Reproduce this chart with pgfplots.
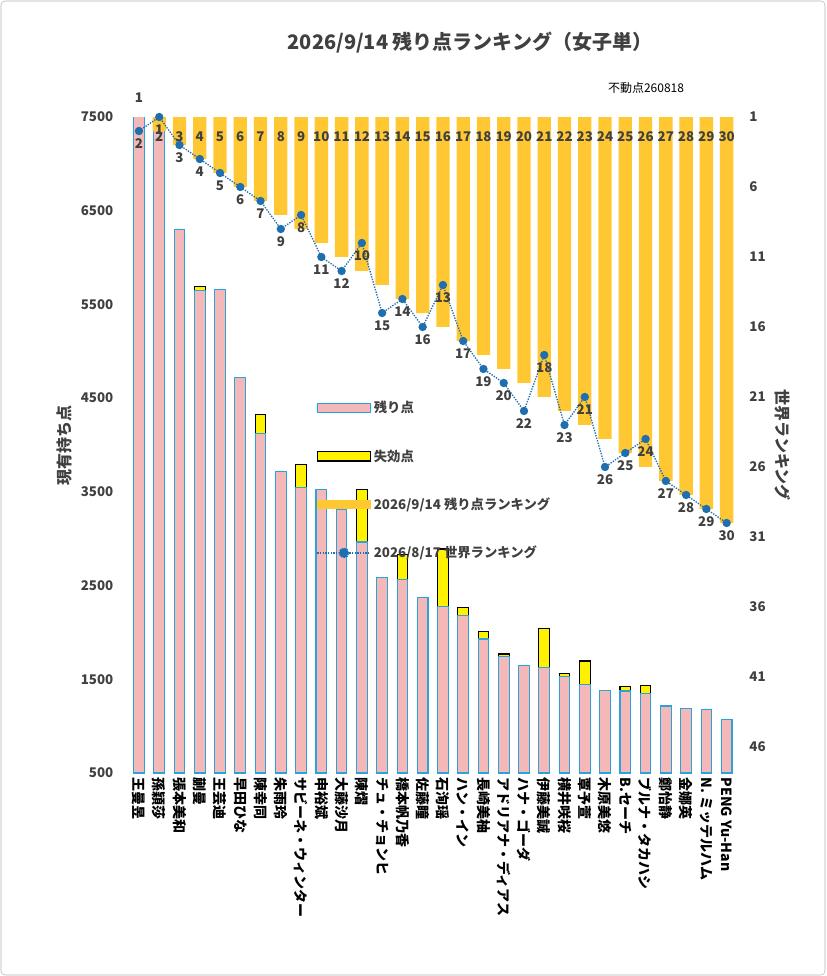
\documentclass[border=0pt]{standalone}
\usepackage{pgfplots}
\pgfplotsset{compat=1.18}
\usepackage{fontspec}
\setmainfont{Noto Sans CJK JP}
\definecolor{pinkb}{HTML}{F4B8B8}
\definecolor{blueb}{HTML}{2AA3D8}
\definecolor{goldb}{HTML}{FFC732}
\definecolor{lineb}{HTML}{1F6FB0}
\definecolor{txt}{HTML}{404040}
\begin{document}
\begin{tikzpicture}[x=0.75pt,y=0.75pt]
\path[use as bounding box] (-88.5pt,-152.25pt) rectangle (531pt,579.75pt);
\draw[gray!60,rounded corners=3pt] (-87.75pt,-151.5pt) rectangle (530.25pt,579pt);
\node[font=\bfseries\fontsize{15}{18}\selectfont,text=txt] at (264pt,547.5pt) {2026/9/14 残り点ランキング（女子単）};
\node[font=\fontsize{9}{11}\selectfont,anchor=west] at (364pt,514pt) {不動点260818};
\begin{axis}[at={(0pt,0pt)},anchor=south west,scale only axis,width=470pt,height=492pt,
 xmin=-0.035,xmax=30.89,ymin=500,ymax=7500,
 axis line style={draw=none},major tick length=0pt,
 ytick={500,1500,...,7500},
 yticklabel style={font=\bfseries\fontsize{10}{12}\selectfont,text=txt},
 /pgf/number format/assume math mode=true,/pgf/number format/set thousands separator={},
 ylabel={現有持ち点},ylabel style={font=\bfseries\fontsize{12}{14}\selectfont,text=txt},
 xtick={1,...,30},
 xticklabels={王曼昱,孫穎莎,張本美和,蒯曼,王芸迪,早田ひな,陳幸同,朱雨玲,サビーネ・ウィンター,申裕斌,大藤沙月,陳熠,チュ・チョンヒ,橋本帆乃香,佐藤瞳,石洵瑶,ハン・イン,長崎美柚,アドリアナ・ディアス,ハナ・ゴーダ,伊藤美誠,横井咲桜,覃予萱,木原美悠,B.セーチ,ブルナ・タカハシ,鄭怡静,金娜英,N. ミッテルハム,PENG Yu-Han},
 xticklabel style={rotate=-90,anchor=west,font=\bfseries\fontsize{10.5}{12}\selectfont,text=black},
 ybar,bar width=8pt]
\addplot[bar shift=0pt,fill=yellow,draw=black,line width=0.8pt] coordinates {(4,5690)(7,4330)(9,3790)(11,3360)(12,3530)(14,2830)(16,2890)(17,2270)(18,2005)(19,1770)(21,2040)(22,1560)(23,1695)(25,1420)(26,1430)};
\addplot[bar shift=0pt,fill=pinkb,draw=blueb,line width=0.8pt] coordinates {(1,7700)(2,7700)(3,6300)(4,5650)(5,5660)(6,4725)(7,4120)(8,3720)(9,3550)(10,3530)(11,3310)(12,2965)(13,2590)(14,2560)(15,2370)(16,2280)(17,2185)(18,1930)(19,1740)(20,1650)(21,1630)(22,1525)(23,1440)(24,1385)(25,1375)(26,1350)(27,1215)(28,1190)(29,1180)(30,1075)};
\end{axis}
\begin{axis}[at={(0pt,0pt)},anchor=south west,scale only axis,width=470pt,height=492pt,
 xmin=-0.035,xmax=30.89,ymin=1,ymax=47.86,y dir=reverse,clip=false,
 axis line style={draw=none},major tick length=0pt,xtick=\empty,
 axis y line*=right,ytick={1,6,...,46},
 yticklabel style={font=\bfseries\fontsize{10}{12}\selectfont,text=txt},
 /pgf/number format/assume math mode=true,
 ylabel={世界ランキング},ylabel style={font=\bfseries\fontsize{12}{14}\selectfont,text=txt,rotate=180},
 legend style={at={(0.31,0.575)},anchor=north west,draw=none,fill=none,row sep=22pt,font=\bfseries\fontsize{10}{12}\selectfont,text=txt},
 legend cell align=left]
\addlegendimage{legend image code/.code={\draw[fill=pinkb,draw=blueb,line width=0.8pt] (0pt,-3.5pt) rectangle (40pt,3.5pt);}}
\addlegendentry{残り点}
\addlegendimage{legend image code/.code={\draw[fill=yellow,draw=black,line width=0.8pt] (0pt,-3.5pt) rectangle (40pt,3.5pt);}}
\addlegendentry{失効点}
\addplot[ybar,bar width=10pt,fill=goldb,draw=none,bar shift=0pt,
 legend image code/.code={\fill[goldb] (0pt,-3.5pt) rectangle (40pt,3.5pt);}] coordinates {(1,1)(2,2)(3,3)(4,4)(5,5)(6,6)(7,7)(8,8)(9,9)(10,10)(11,11)(12,12)(13,13)(14,14)(15,15)(16,16)(17,17)(18,18)(19,19)(20,20)(21,21)(22,22)(23,23)(24,24)(25,25)(26,26)(27,27)(28,28)(29,29)(30,30)};
\addlegendentry{2026/9/14 残り点ランキング}
\addplot[densely dotted,color=lineb,line width=1pt,mark=*,mark options={solid,fill=lineb,draw=lineb,scale=1.3},
 nodes near coords,point meta=y,nodes near coords align={below},
 every node near coord/.append style={font=\bfseries\fontsize{10}{12}\selectfont,text=txt,yshift=-2pt},
 legend image code/.code={\draw[densely dotted,lineb,line width=1pt] (0pt,0pt)--(40pt,0pt);\fill[lineb] (20pt,0pt) circle (3.5pt);}]
 coordinates {(1,2)(2,1)(3,3)(4,4)(5,5)(6,6)(7,7)(8,9)(9,8)(10,11)(11,12)(12,10)(13,15)(14,14)(15,16)(16,13)(17,17)(18,19)(19,20)(20,22)(21,18)(22,23)(23,21)(24,26)(25,25)(26,24)(27,27)(28,28)(29,29)(30,30)};
\addlegendentry{2026/8/17 世界ランキング}
\addplot[only marks,mark=none,nodes near coords,point meta=explicit symbolic,
 every node near coord/.append style={font=\bfseries\fontsize{10}{12}\selectfont,text=txt,anchor=center}]
 coordinates {(1,-0.4)[1](2,2.4)[2](3,2.4)[3](4,2.4)[4](5,2.4)[5](6,2.4)[6](7,2.4)[7](8,2.4)[8](9,2.4)[9](10,2.4)[10](11,2.4)[11](12,2.4)[12](13,2.4)[13](14,2.4)[14](15,2.4)[15](16,2.4)[16](17,2.4)[17](18,2.4)[18](19,2.4)[19](20,2.4)[20](21,2.4)[21](22,2.4)[22](23,2.4)[23](24,2.4)[24](25,2.4)[25](26,2.4)[26](27,2.4)[27](28,2.4)[28](29,2.4)[29](30,2.4)[30]};
\end{axis}
\end{tikzpicture}
\end{document}
